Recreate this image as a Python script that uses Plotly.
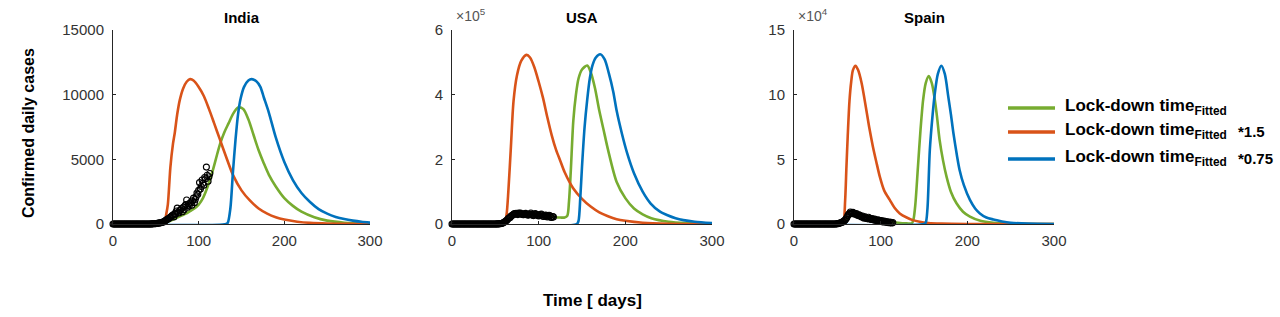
import plotly.graph_objects as go

W, H = 1280, 317

COUNTRIES = ["India", "USA", "Spain"]
SERIES_NAMES = ["Lock-down time<sub>Fitted</sub>",
                "Lock-down time<sub>Fitted</sub>",
                "Lock-down time<sub>Fitted</sub>"]
SERIES_SUFFIX = ["", "*1.5", "*0.75"]
COLORS = ["#77AC30", "#D95319", "#0072BD"]

# ---------------- observed daily cases (one value per day, starting day 0)
india_obs = [0] * 40 + [
    1, 0, 2, 3, 5, 8, 10, 15, 20, 25,
    30, 40, 55, 70, 80, 90, 100, 120, 150, 160,
    200, 250, 300, 350, 380, 420, 480, 520, 580, 650,
    700, 550, 800, 750, 1000, 1230, 900, 850, 1050, 1100,
    1200, 950, 1300, 1100, 1400, 1500, 1850, 1300, 1550, 1400,
    1600, 1700, 1450, 1800, 2000, 1650, 1900, 2100, 2400, 2300,
    2600, 3200, 2700, 2900, 3400, 3150, 3000, 3600, 3500, 4400,
    3770, 3300, 3650, 3900]
usa_obs = [0] * 40 + [
    0, 1, 0, 2, 5, 10, 20, 30, 50, 80,
    100, 150, 250, 350, 500, 700, 1000, 1500, 2500, 4000,
    5500, 7000, 9000, 11000, 14000, 17000, 19000, 20000, 24000, 26000,
    28000, 30000, 32000, 31000, 33000, 30000, 29000, 34000, 32000, 33500,
    31000, 30000, 28500, 29000, 32000, 33000, 30000, 28000, 27500, 29000,
    31000, 34000, 30000, 27000, 26000, 28000, 32000, 30000, 29500, 27000,
    25000, 26500, 29000, 31000, 28000, 24000, 23000, 26000, 28000, 25000,
    22000, 24500, 27000, 25000, 21000, 20000, 23000, 22000]
spain_obs = [0] * 40 + [
    0, 0, 1, 2, 5, 10, 20, 30, 50, 100,
    200, 300, 500, 700, 1000, 1200, 1500, 2000, 2500, 3000,
    4000, 5000, 6500, 7500, 8000, 9300, 8500, 8000, 9000, 8200,
    7800, 7500, 8000, 7000, 6500, 7200, 6800, 6000, 5500, 6200,
    5000, 4500, 5600, 4800, 4300, 4000, 5200, 4500, 3800, 3500,
    4200, 3600, 3000, 3900, 3200, 2800, 2500, 3300, 2700, 2400,
    2000, 2600, 1800, 1500, 2200, 1700, 1300, 1900, 1200, 1000,
    1500, 900, 1300, 800, 1100]

# ---------------- model curves (day, value)
india_fit_days = [0, 55, 60, 65, 70, 75, 80, 85, 90, 95, 100, 105, 110, 115, 120, 125, 130,
                  135, 140, 146, 152, 158, 164, 170, 176, 182, 190, 200, 210, 220, 235, 250, 270, 300]
india_fit = [0, 0, 80, 200, 350, 500, 650, 800, 1000, 1200, 1500, 2000, 2800, 3800, 5000, 6200, 7100,
             7800, 8500, 9000, 8900, 8100, 6900, 5700, 4700, 3800, 2900, 2000, 1400, 950, 520, 260, 100, 20]
india_15_days = [0, 58, 60, 62, 64, 67, 70, 72, 75, 78, 82, 86, 90, 94, 100, 106, 112, 118, 125, 132,
                 140, 150, 160, 170, 180, 190, 200, 215, 230, 250, 275, 300]
india_15 = [0, 0, 30, 700, 1500, 4400, 6200, 7000, 8500, 9600, 10500, 11000, 11200, 11100, 10600, 9900,
            8900, 7800, 6500, 5200, 3800, 2600, 1800, 1200, 800, 520, 340, 180, 90, 35, 10, 3]
india_075_days = [0, 132, 134, 137, 140, 143, 146, 149, 153, 158, 162, 167, 172, 176, 182, 190, 200,
                  210, 220, 230, 240, 250, 260, 270, 280, 290, 300]
india_075 = [0, 0, 100, 1200, 4000, 6500, 8500, 9700, 10600, 11100, 11200, 11050, 10600, 9800, 8600,
             6700, 4800, 3400, 2400, 1700, 1150, 800, 550, 380, 260, 170, 110]

usa_fit_days = [0, 58, 62, 66, 70, 75, 80, 90, 100, 110, 115, 120, 125, 130, 133, 135, 137, 140, 143,
                146, 150, 156, 160, 165, 170, 175, 180, 190, 200, 210, 220, 230, 250, 270, 300]
usa_fit = [0, 0, 5000, 15000, 25000, 30000, 32000, 32000, 30000, 27000, 24000, 21000, 20000, 20000,
           25000, 70000, 160000, 320000, 400000, 450000, 478000, 490000, 470000, 420000, 350000, 290000,
           230000, 130000, 80000, 48000, 30000, 18000, 7000, 3000, 1000]
usa_15_days = [0, 59, 61, 63, 65, 68, 71, 75, 80, 86, 90, 95, 100, 105, 110, 115, 120, 125, 130, 140,
               150, 160, 170, 180, 190, 200, 220, 250, 300]
usa_15 = [0, 0, 5000, 30000, 100000, 240000, 380000, 460000, 505000, 523000, 515000, 485000, 440000,
          390000, 330000, 275000, 230000, 195000, 160000, 110000, 78000, 54000, 36000, 24000, 15000,
          10000, 4000, 1000, 0]
usa_075_days = [0, 144, 146, 148, 150, 153, 156, 159, 162, 166, 171, 176, 181, 186, 190, 196, 202, 210,
                220, 229, 240, 248, 258, 267, 280, 300]
usa_075 = [0, 0, 10000, 80000, 177000, 300000, 384000, 450000, 490000, 515000, 525000, 510000, 466000,
           410000, 350000, 280000, 220000, 157000, 100000, 64000, 38000, 28000, 18000, 12000, 7000, 3000]

spain_fit_days = [0, 50, 55, 60, 65, 70, 75, 80, 90, 100, 110, 120, 130, 136, 138, 140, 143, 146, 149,
                  152, 155.5, 159, 162.5, 165, 168, 172, 176, 181, 187.5, 195, 203, 215, 230, 250, 300]
spain_fit = [0, 0, 500, 3000, 6000, 7500, 7500, 7000, 5500, 3500, 2000, 1000, 500, 500, 4000, 15000,
             44000, 73000, 96000, 109000, 114400, 109000, 96000, 83000, 65000, 49000, 36600, 25000, 16000,
             9500, 5700, 2500, 1000, 300, 0]
spain_15_days = [0, 55, 57, 59, 60.5, 62, 64, 66, 68, 71, 74, 78, 83.5, 87, 91, 95, 99, 104, 110.5, 116,
                 122, 130, 137, 145, 155, 170, 200, 300]
spain_15 = [0, 0, 1000, 18000, 44000, 68000, 95000, 110000, 119000, 122400, 119000, 109000, 88000,
            74000, 60000, 48000, 36600, 26000, 18600, 12500, 8200, 5000, 3000, 1700, 800, 300, 0, 0]
spain_075_days = [0, 150, 152, 154, 156.7, 160, 162.5, 166, 170, 174, 178, 181, 184, 188, 191, 196, 203,
                  209, 214.5, 222, 230, 240, 250, 270, 300]
spain_075 = [0, 0, 1000, 12000, 57000, 85000, 101000, 116000, 122400, 116000, 98500, 85000, 70000,
             53000, 42000, 30000, 18600, 12000, 8200, 5000, 3500, 2000, 1000, 300, 0]

X_TICKS = [0, 100, 200, 300]
Y_TICKS = {"India": ([0, 5000, 10000, 15000], ["0", "5000", "10000", "15000"]),
           "USA": ([0, 200000, 400000, 600000], ["0", "2", "4", "6"]),
           "Spain": ([0, 50000, 100000, 150000], ["0", "5", "10", "15"])}
Y_MAX = {"India": 15000, "USA": 600000, "Spain": 150000}
EXPONENT = {"India": None, "USA": "5", "Spain": "4"}

curves = {
    "India": [(india_fit_days, india_fit), (india_15_days, india_15), (india_075_days, india_075)],
    "USA": [(usa_fit_days, usa_fit), (usa_15_days, usa_15), (usa_075_days, usa_075)],
    "Spain": [(spain_fit_days, spain_fit), (spain_15_days, spain_15), (spain_075_days, spain_075)],
}
observed = {"India": india_obs, "USA": usa_obs, "Spain": spain_obs}

# ---------------- layout geometry (pixels)
panel_x = {"India": (113, 370), "USA": (452, 712), "Spain": (794, 1054)}
panel_y = (30, 224)


def fx(p):
    return p / W


def fy(p):
    return 1 - p / H


FONT = "Liberation Sans, Arial, sans-serif"
AXC = "#262626"

fig = go.Figure()
annotations = []
shapes = []

for i, c in enumerate(COUNTRIES):
    k = "" if i == 0 else str(i + 1)
    xa, ya = "x" + k, "y" + k
    for j, (d, v) in enumerate(curves[c]):
        fig.add_trace(go.Scatter(x=d, y=v, mode="lines", xaxis=xa, yaxis=ya,
                                 line=dict(color=COLORS[j], width=2.6, shape="spline", smoothing=0.8),
                                 name=SERIES_NAMES[j] + " " + SERIES_SUFFIX[j],
                                 showlegend=False, hoverinfo="skip"))
    obs = observed[c]
    fig.add_trace(go.Scatter(x=list(range(len(obs))), y=obs, mode="markers", xaxis=xa, yaxis=ya,
                             marker=dict(symbol="circle-open", size=6, color="black",
                                         line=dict(width=1.1, color="black")),
                             cliponaxis=False, showlegend=False, name=c + " data"))
    x0, x1 = panel_x[c]
    common = dict(showgrid=False, zeroline=False, showline=True, linecolor=AXC, linewidth=1,
                  ticks="inside", ticklen=3, tickcolor=AXC, automargin=False,
                  tickfont=dict(family=FONT, size=15, color="#333333"))
    fig.update_layout(**{
        "xaxis" + k: dict(domain=[fx(x0), fx(x1)], range=[0, 300], tickvals=X_TICKS,
                          anchor=ya, ticklabelstandoff=3, **common),
        "yaxis" + k: dict(domain=[fy(panel_y[1]), fy(panel_y[0])], range=[0, Y_MAX[c]],
                          tickvals=Y_TICKS[c][0], ticktext=Y_TICKS[c][1], anchor=xa,
                          ticklabelstandoff=5, **common),
    })
    annotations.append(dict(x=fx((x0 + x1) / 2), y=fy(17), xref="paper", yref="paper",
                            text="<b>" + c + "</b>", showarrow=False,
                            font=dict(family=FONT, size=15, color="black"),
                            xanchor="center", yanchor="middle"))
    if EXPONENT[c]:
        annotations.append(dict(x=fx(x0 + 2), y=fy(15), xref="paper", yref="paper",
                                text="\u00d710<sup>" + EXPONENT[c] + "</sup>", showarrow=False,
                                font=dict(family=FONT, size=14, color="#555555"),
                                xanchor="left", yanchor="middle"))

# axis titles
annotations.append(dict(x=fx(28), y=fy(133), xref="paper", yref="paper",
                        text="<b>Confirmed daily cases</b>", textangle=-90, showarrow=False,
                        font=dict(family=FONT, size=16, color="black"),
                        xanchor="center", yanchor="middle"))
annotations.append(dict(x=fx(592), y=fy(300), xref="paper", yref="paper",
                        text="<b>Time [ days]</b>", showarrow=False,
                        font=dict(family=FONT, size=17, color="black"),
                        xanchor="center", yanchor="middle"))

# legend (drawn manually)
legend_rows = [108, 132, 159]
for j, yy in enumerate(legend_rows):
    shapes.append(dict(type="line", xref="paper", yref="paper", x0=fx(1008), x1=fx(1055),
                       y0=fy(yy), y1=fy(yy), line=dict(color=COLORS[j], width=3.5)))
    annotations.append(dict(x=fx(1063), y=fy(yy - 1), xref="paper", yref="paper",
                            text="<b>" + SERIES_NAMES[j] + "</b>", showarrow=False,
                            font=dict(family=FONT, size=17, color="black"),
                            xanchor="left", yanchor="middle"))
    if SERIES_SUFFIX[j]:
        annotations.append(dict(x=fx(1236), y=fy(yy - 1), xref="paper", yref="paper",
                                text="<b>" + SERIES_SUFFIX[j] + "</b>", showarrow=False,
                                font=dict(family=FONT, size=15, color="black"),
                                xanchor="left", yanchor="middle"))

fig.update_layout(width=W, height=H, autosize=False, margin=dict(l=0, r=0, t=0, b=0, pad=0),
                  paper_bgcolor="white", plot_bgcolor="white", showlegend=False,
                  annotations=annotations, shapes=shapes)

fig.write_html("out.html", config={"displayModeBar": False},
               post_script="document.body.style.margin='0';document.body.style.padding='0';"
                           "document.body.style.overflow='hidden';")
